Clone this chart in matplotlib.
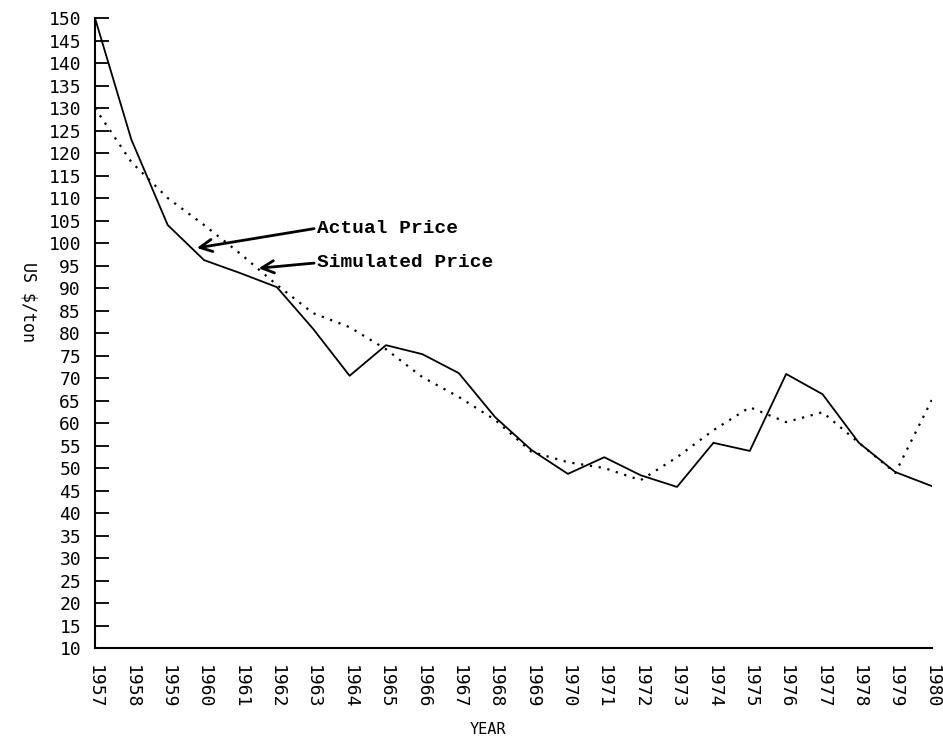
import matplotlib.pyplot as plt

years = list(range(1957, 1981))

# actual price, US $/ton
actual = [150, 123, 104, 96.2, 93.3, 90.2, 80.9, 70.5, 77.3, 75.3, 71.1, 61.3,
          54.0, 48.7, 52.4, 48.4, 45.8, 55.6, 53.8, 70.9, 66.4, 55.6, 49.1, 46.0]

# simulated price, US $/ton
simulated = [130, 118, 110, 104, 97.6, 90.7, 84.4, 81.3, 76.4, 70.2, 65.8, 60.7,
             53.6, 51.3, 50.0, 47.3, 52.4, 58.4, 63.5, 60.2, 62.4, 55.6, 48.9, 65.1]

y_ticks = list(range(10, 151, 5))
long_ticks = [25, 50, 75, 100, 125, 150]

fig = plt.figure(figsize=(9.43, 7.39), dpi=100)
ax = fig.add_axes([0.1007, 0.1231, 0.8873, 0.8525])

ax.plot(years, actual, color="black", linewidth=1.3)
ax.plot(years, simulated, color="black", linewidth=1.6, linestyle=(0, (1, 3)))

ax.set_xlim(1957, 1980)
ax.set_ylim(10, 150)

# axes look
for side in ["top", "right"]:
    ax.spines[side].set_visible(False)
ax.spines["left"].set_linewidth(1.5)
ax.spines["bottom"].set_linewidth(1.5)

tick_font = dict(family="DejaVu Sans Mono", size=13)
ax.set_yticks(y_ticks)
ax.set_yticklabels([str(v) for v in y_ticks], **tick_font)
ax.set_yticks(long_ticks, minor=True)
ax.tick_params(axis="y", which="major", direction="in", length=10, width=1.3, pad=10)
ax.tick_params(axis="y", which="minor", direction="in", length=19, width=1.3)

ax.set_xticks(years)
ax.set_xticklabels([str(y) for y in years], rotation=270, **tick_font)
ax.tick_params(axis="x", length=0, pad=12)

ax.set_xlabel("YEAR", family="DejaVu Sans Mono", size=11)
ax.xaxis.set_label_coords(0.47, -0.118)
ax.set_ylabel("US $/ton", family="DejaVu Sans Mono", size=12, rotation=270)
ax.yaxis.set_label_coords(-0.09, 0.55)

# arrows pointing at the two curves
arrow = dict(arrowstyle="->", color="black", lw=2, mutation_scale=22,
             shrinkA=0, shrinkB=0, relpos=(0, 0.5))
ax.annotate("Actual Price", xy=(1959.8, 98.9), xytext=(1963.1, 103.3),
            family="Liberation Mono", weight="bold", size=14, ha="left", va="center",
            arrowprops=arrow)
ax.annotate("Simulated Price", xy=(1961.5, 94.4), xytext=(1963.1, 95.6),
            family="Liberation Mono", weight="bold", size=14, ha="left", va="center",
            arrowprops=arrow)

plt.savefig("out.png", dpi=100)
plt.close()
